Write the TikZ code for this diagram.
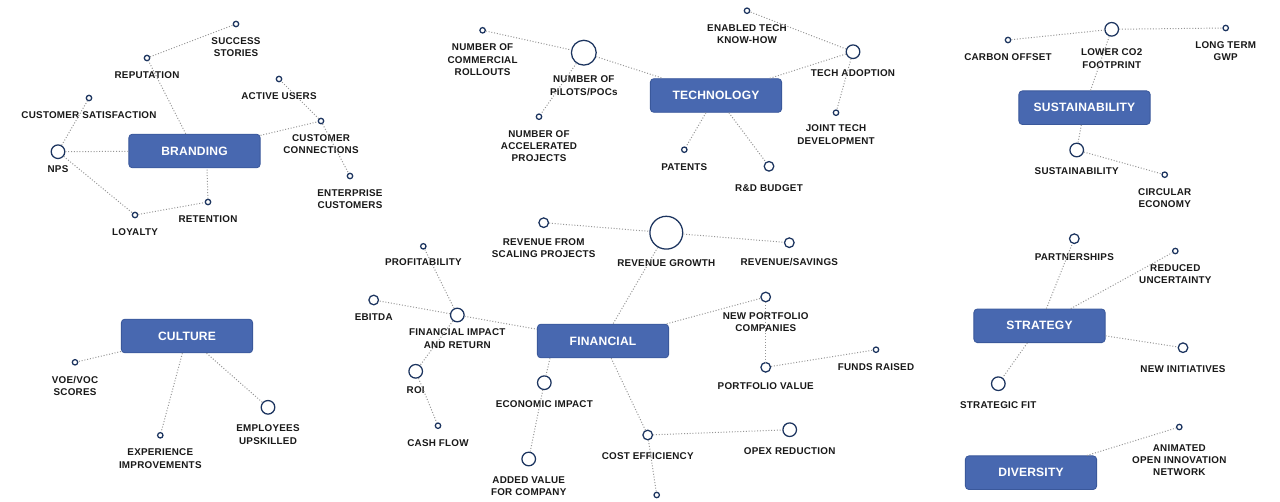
\documentclass[tikz,border=0pt]{standalone}
\usepackage{fontspec}
\usepackage{tikz}
\usetikzlibrary{positioning}
\newfontfamily\lblfont[LetterSpace=2.5]{Liberation Sans}
\newfontfamily\boxfont[LetterSpace=1.5]{Liberation Sans}
\definecolor{boxblue}{RGB}{72,104,176}
\definecolor{boxedge}{RGB}{58,88,155}
\definecolor{kpinavy}{RGB}{28,52,95}
\definecolor{linkgray}{RGB}{150,150,150}
\definecolor{lbltext}{RGB}{25,25,25}

\begin{document}
\begin{tikzpicture}[
  x=0.025cm, y=-0.025cm,
  node distance=0.25cm,
  box/.style={rectangle, rounded corners=2.5pt, draw=boxedge, fill=boxblue,
              line width=0.6pt, minimum width=3.28cm, minimum height=0.84cm,
              text=white, font={\boxfont\bfseries\fontsize{8.6}{10}\selectfont}},
  kpi/.style={circle, draw=kpinavy, fill=white, line width=0.9pt, inner sep=0pt},
  ksml/.style={kpi, minimum size=0.135cm},
  kmed/.style={kpi, minimum size=0.24cm},
  klrg/.style={kpi, minimum size=0.34cm},
  kxl/.style={kpi, minimum size=0.62cm},
  kxxl/.style={kpi, minimum size=0.82cm},
  lbl/.style={inner sep=0pt, align=center, text=lbltext,
              font={\lblfont\bfseries\fontsize{7}{8.7}\selectfont}},
  link/.style={dash pattern=on 0.7pt off 1.3pt, line width=0.7pt, linkgray},
]
  \fill[white] (0,0) rectangle (1280,501);
  \useasboundingbox (0,0) rectangle (1280,501);

  % branding
  \node[box]  (branding)   at (194.5,151) {BRANDING};
  \node[klrg] (nps)        at (58,151.7)  {};
  \node[ksml] (custsat)    at (89,98)     {};
  \node[ksml] (reput)      at (147,58)    {};
  \node[ksml] (success)    at (236,24)    {};
  \node[ksml] (active)     at (279,79)    {};
  \node[ksml] (custconn)   at (321,121)   {};
  \node[ksml] (enterprise) at (350,176)   {};
  \node[ksml] (retention)  at (208,202)   {};
  \node[ksml] (loyalty)    at (135,215)   {};
  \node[lbl, below=0.15cm of nps]   (nps-t)        {NPS};
  \node[lbl, below=of custsat]      (custsat-t)    {CUSTOMER SATISFACTION};
  \node[lbl, below=of reput]        (reput-t)      {REPUTATION};
  \node[lbl, below=of success]      (success-t)    {SUCCESS\\STORIES};
  \node[lbl, below=of active]       (active-t)     {ACTIVE USERS};
  \node[lbl, below=of custconn]     (custconn-t)   {CUSTOMER\\CONNECTIONS};
  \node[lbl, below=of enterprise]   (enterprise-t) {ENTERPRISE\\CUSTOMERS};
  \node[lbl, below=of retention]    (retention-t)  {RETENTION};
  \node[lbl, below=of loyalty]      (loyalty-t)    {LOYALTY};

  \draw[link] (nps) -- (custsat);
  \draw[link] (nps) -- (branding);
  \draw[link] (nps) -- (loyalty);
  \draw[link] (loyalty) -- (retention);
  \draw[link] (retention) -- (branding.-54);
  \draw[link] (branding) -- (reput);
  \draw[link] (reput) -- (success);
  \draw[link] (branding) -- (custconn);
  \draw[link] (custconn) -- (active);
  \draw[link] (custconn) -- (enterprise);

  % technology
  \node[box]  (techno)   at (716,95.5)    {TECHNOLOGY};
  \node[kxl]  (pilots)   at (583.8,52.7)  {};
  \node[ksml] (rollouts) at (482.6,30.3)  {};
  \node[ksml] (accel)    at (539,116.7)   {};
  \node[ksml] (patents)  at (684.3,149.7) {};
  \node[kmed] (rnd)      at (769,166.3)   {};
  \node[klrg] (adoption) at (853,51.7)    {};
  \node[ksml] (knowhow)  at (747,10.7)    {};
  \node[ksml] (jointdev) at (836,112.7)   {};
  \node[lbl, below=of pilots]         (pilots-t)   {NUMBER OF\\PILOTS/POCs};
  \node[lbl, below=of rollouts]       (rollouts-t) {NUMBER OF\\COMMERCIAL\\ROLLOUTS};
  \node[lbl, below=of accel]          (accel-t)    {NUMBER OF\\ACCELERATED\\PROJECTS};
  \node[lbl, below=of patents]        (patents-t)  {PATENTS};
  \node[lbl, below=0.32cm of rnd]     (rnd-t)      {R\&D BUDGET};
  \node[lbl, below=of adoption]       (adoption-t) {TECH ADOPTION};
  \node[lbl, below=of knowhow]        (knowhow-t)  {ENABLED TECH\\KNOW-HOW};
  \node[lbl, below=0.22cm of jointdev] (jointdev-t) {JOINT TECH\\DEVELOPMENT};

  \draw[link] (rollouts) -- (pilots);
  \draw[link] (pilots) -- (techno);
  \draw[link] (pilots) -- (accel);
  \draw[link] (techno) -- (patents);
  \draw[link] (techno) -- (rnd);
  \draw[link] (techno) -- (adoption);
  \draw[link] (adoption) -- (knowhow);
  \draw[link] (adoption) -- (jointdev);

  % culture
  \node[box]  (culture)    at (187,336)     {CULTURE};
  \node[ksml] (voe)        at (75,362.3)    {};
  \node[ksml] (experience) at (160.3,435.3) {};
  \node[klrg] (upskill)    at (268,407.3)   {};
  \node[lbl, below=of voe]        (voe-t)        {VOE/VOC\\SCORES};
  \node[lbl, below=of experience] (experience-t) {EXPERIENCE\\IMPROVEMENTS};
  \node[lbl, below=of upskill]    (upskill-t)    {EMPLOYEES\\UPSKILLED};

  \draw[link] (culture) -- (voe);
  \draw[link] (culture) -- (experience);
  \draw[link] (culture) -- (upskill);

  % financial
  \node[box]  (financial)  at (603,341)     {FINANCIAL};
  \node[kxxl] (revgrowth)  at (666.3,232.7) {};
  \node[kmed] (revscaling) at (543.7,222.7) {};
  \node[kmed] (revsavings) at (789.3,242.7) {};
  \node[klrg] (finimpact)  at (457.3,315)   {};
  \node[ksml] (profit)     at (423.3,246.3) {};
  \node[kmed] (ebitda)     at (373.7,300)   {};
  \node[klrg] (roi)        at (415.7,371.3) {};
  \node[ksml] (cashflow)   at (438,425.7)   {};
  \node[klrg] (econimpact) at (544.3,382.7) {};
  \node[klrg] (addedvalue) at (528.7,459)   {};
  \node[kmed] (newportf)   at (765.7,297)   {};
  \node[kmed] (portfvalue) at (765.7,367.3) {};
  \node[ksml] (funds)      at (876,349.7)   {};
  \node[kmed] (costeff)    at (647.7,435)   {};
  \node[klrg] (opex)       at (789.7,429.7) {};
  \node[ksml] (costmore)   at (656.7,495)   {};
  \node[lbl, below=of revgrowth]       (revgrowth-t)  {REVENUE GROWTH};
  \node[lbl, below=of revscaling]      (revscaling-t) {REVENUE FROM\\SCALING PROJECTS};
  \node[lbl, below=of revsavings]      (revsavings-t) {REVENUE/SAVINGS};
  \node[lbl, below=0.155cm of finimpact] (finimpact-t) {FINANCIAL IMPACT\\AND RETURN};
  \node[lbl, below=0.22cm of profit]   (profit-t)     {PROFITABILITY};
  \node[lbl, below=0.21cm of ebitda]   (ebitda-t)     {EBITDA};
  \node[lbl, below=0.2cm of roi]       (roi-t)        {ROI};
  \node[lbl, below=of cashflow]        (cashflow-t)   {CASH FLOW};
  \node[lbl, below=of econimpact]      (econimpact-t) {ECONOMIC IMPACT};
  \node[lbl, below=of addedvalue]      (addedvalue-t) {ADDED VALUE\\FOR COMPANY};
  \node[lbl, below=of newportf]        (newportf-t)   {NEW PORTFOLIO\\COMPANIES};
  \node[lbl, below=of portfvalue]      (portfvalue-t) {PORTFOLIO VALUE};
  \node[lbl, below=of funds]           (funds-t)      {FUNDS RAISED};
  \node[lbl, below=0.29cm of costeff]  (costeff-t)    {COST EFFICIENCY};
  \node[lbl, below=of opex]            (opex-t)       {OPEX REDUCTION};

  \draw[link] (revscaling) -- (revgrowth);
  \draw[link] (revgrowth) -- (revsavings);
  \draw[link] (revgrowth) -- (financial);
  \draw[link] (finimpact) -- (profit);
  \draw[link] (finimpact) -- (ebitda);
  \draw[link] (finimpact) -- (financial);
  \draw[link] (finimpact) -- (roi);
  \draw[link] (roi) -- (cashflow);
  \draw[link] (financial.198) -- (econimpact);
  \draw[link] (econimpact) -- (addedvalue);
  \draw[link] (financial) -- (newportf);
  \draw[link] (newportf) -- (portfvalue);
  \draw[link] (portfvalue) -- (funds);
  \draw[link] (financial) -- (costeff);
  \draw[link] (costeff) -- (opex);
  \draw[link] (costeff) -- (costmore);

  % sustainability
  \node[box]  (sustain)  at (1084.5,107.7) {SUSTAINABILITY};
  \node[klrg] (lowerco2) at (1111.7,29.3)  {};
  \node[ksml] (carbon)   at (1008,40)      {};
  \node[ksml] (gwp)      at (1225.7,28)    {};
  \node[klrg] (sustkpi)  at (1076.7,150)   {};
  \node[ksml] (circular) at (1164.7,174.7) {};
  \node[lbl, below=0.3cm of lowerco2] (lowerco2-t) {LOWER CO2\\FOOTPRINT};
  \node[lbl, below=of carbon]         (carbon-t)   {CARBON OFFSET};
  \node[lbl, below=of gwp]            (gwp-t)      {LONG TERM\\GWP};
  \node[lbl, below=of sustkpi]        (sustkpi-t)  {SUSTAINABILITY};
  \node[lbl, below=of circular]       (circular-t) {CIRCULAR\\ECONOMY};

  \draw[link] (carbon) -- (lowerco2);
  \draw[link] (lowerco2) -- (gwp);
  \draw[link] (lowerco2) -- (sustain);
  \draw[link] (sustain) -- (sustkpi);
  \draw[link] (sustkpi) -- (circular);

  % strategy and diversity
  \node[box]  (strategy)  at (1039.5,325.8) {STRATEGY};
  \node[kmed] (partner)   at (1074.3,238.7) {};
  \node[ksml] (uncertain) at (1175.3,251)   {};
  \node[kmed] (newinit)   at (1183,347.7)   {};
  \node[klrg] (stratfit)  at (998.3,383.7)  {};
  \node[box]  (diversity) at (1031,472.7)   {DIVERSITY};
  \node[ksml] (openinno)  at (1179.3,427)   {};
  \node[lbl, below=0.23cm of partner]  (partner-t)   {PARTNERSHIPS};
  \node[lbl, below=of uncertain]       (uncertain-t) {REDUCED\\UNCERTAINTY};
  \node[lbl, below=0.31cm of newinit]  (newinit-t)   {NEW INITIATIVES};
  \node[lbl, below=of stratfit]        (stratfit-t)  {STRATEGIC FIT};
  \node[lbl, below=0.35cm of openinno] (openinno-t)  {ANIMATED\\OPEN INNOVATION\\NETWORK};

  \draw[link] (strategy) -- (partner);
  \draw[link] (strategy) -- (uncertain);
  \draw[link] (strategy) -- (newinit);
  \draw[link] (strategy) -- (stratfit);
  \draw[link] (diversity) -- (openinno);
\end{tikzpicture}
\end{document}
